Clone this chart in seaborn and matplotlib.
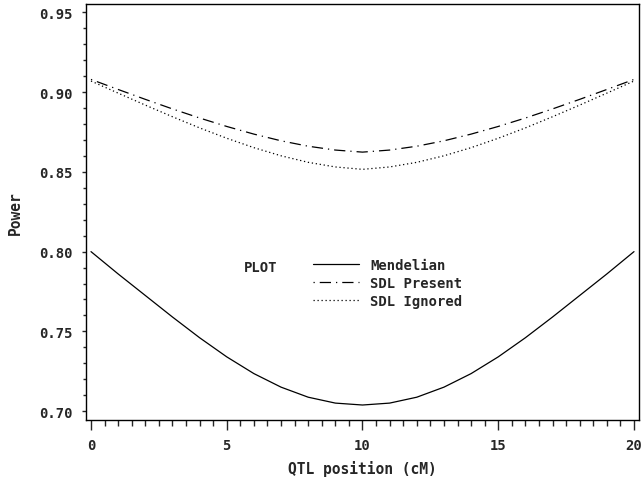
import numpy as np
import pandas as pd
import matplotlib
matplotlib.use("Agg")
import matplotlib.pyplot as plt
import seaborn as sns
from matplotlib.ticker import MultipleLocator, FormatStrFormatter

positions = [0, 1, 2, 3, 4, 5, 6, 7, 8, 9, 10, 11, 12, 13, 14, 15, 16, 17, 18, 19, 20]
mendelian = [0.8000, 0.7860, 0.7725, 0.7590, 0.7460, 0.7340, 0.7235, 0.7150, 0.7087, 0.7050, 0.7038,
             0.7050, 0.7087, 0.7150, 0.7235, 0.7340, 0.7460, 0.7590, 0.7725, 0.7860, 0.8000]
sdl_present = [0.9080, 0.9017, 0.8955, 0.8895, 0.8838, 0.8785, 0.8737, 0.8695, 0.8661, 0.8637, 0.8624,
               0.8637, 0.8661, 0.8695, 0.8737, 0.8785, 0.8838, 0.8895, 0.8955, 0.9017, 0.9080]
sdl_ignored = [0.9070, 0.8994, 0.8919, 0.8846, 0.8776, 0.8711, 0.8652, 0.8601, 0.8560, 0.8531, 0.8516,
               0.8531, 0.8560, 0.8601, 0.8652, 0.8711, 0.8776, 0.8846, 0.8919, 0.8994, 0.9070]
series_names = ["Mendelian", "SDL Present", "SDL Ignored"]

df = pd.DataFrame({
    "pos": positions * 3,
    "power": mendelian + sdl_present + sdl_ignored,
    "series": [series_names[0]] * len(positions) + [series_names[1]] * len(positions)
              + [series_names[2]] * len(positions),
})

sns.set_style("ticks")
plt.rcParams["font.family"] = ["DejaVu Sans Mono", "DejaVu Sans"]
plt.rcParams["font.weight"] = "bold"

fig = plt.figure(figsize=(6.43, 4.81), dpi=100)
ax = fig.add_axes([86 / 643, 1 - 421 / 481, (639 - 86) / 643, (421 - 5) / 481])

dashes = {"Mendelian": "", "SDL Present": (1, 4, 9, 4), "SDL Ignored": (1, 2.2)}
sns.lineplot(data=df, x="pos", y="power", style="series", style_order=series_names,
             dashes=dashes, color="black", linewidth=0.9, ax=ax, legend=True)

ax.set_xlim(-0.184, 20.184)
ax.set_ylim(0.6944, 0.9553)
ax.xaxis.set_major_locator(MultipleLocator(5))
ax.xaxis.set_minor_locator(MultipleLocator(0.5))
ax.yaxis.set_major_locator(MultipleLocator(0.05))
ax.yaxis.set_minor_locator(MultipleLocator(0.01))
ax.yaxis.set_major_formatter(FormatStrFormatter("%.2f"))
ax.xaxis.set_major_formatter(FormatStrFormatter("%d"))

ax.tick_params(axis="x", which="major", length=7.2, width=1.0, pad=5.5, labelsize=10)
ax.tick_params(axis="x", which="minor", length=4.3, width=1.0)
ax.tick_params(axis="y", which="major", length=2.9, width=1.0, pad=6.5, labelsize=10)
ax.tick_params(axis="y", which="minor", length=2.1, width=1.0)
for lab in ax.get_xticklabels() + ax.get_yticklabels():
    lab.set_fontweight("bold")
for sp in ax.spines.values():
    sp.set_visible(True)
    sp.set_linewidth(1.0)
    sp.set_color("black")

ax.set_xlabel("QTL position (cM)", fontsize=10.5, fontweight="bold", labelpad=6)
ax.set_ylabel("Power", fontsize=10.5, fontweight="bold")
ax.yaxis.set_label_coords(-0.115, 0.5)

handles, labels = ax.get_legend_handles_labels()
leg = ax.legend(handles, labels, loc="upper left", bbox_to_anchor=(0.4105, 0.390),
                frameon=False, handlelength=3.3, handletextpad=0.8,
                labelspacing=0.30, borderpad=0, borderaxespad=0,
                prop={"weight": "bold", "size": 10})
ax.text(0.3165, 0.368, "PLOT", transform=ax.transAxes, ha="center", va="center",
        fontsize=10, fontweight="bold")

fig.savefig("out.png", dpi=100)
